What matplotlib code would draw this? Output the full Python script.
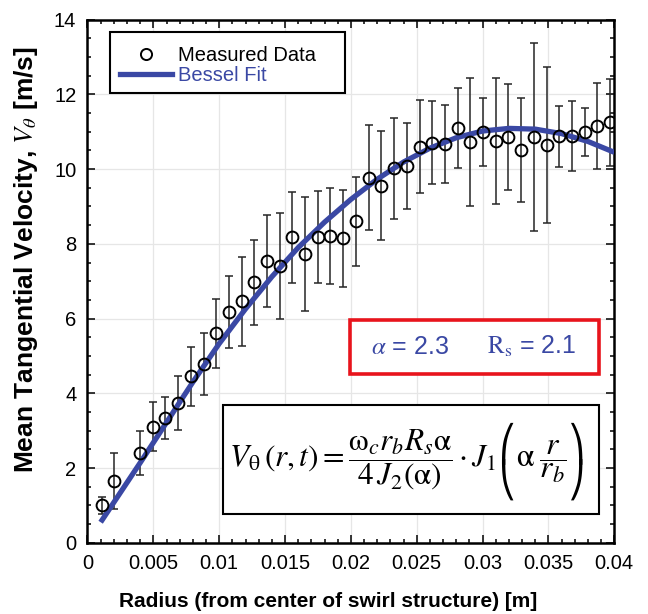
import matplotlib
matplotlib.use("Agg")
import matplotlib.pyplot as plt
from matplotlib.lines import Line2D
from matplotlib.patches import Rectangle
from matplotlib.ticker import MultipleLocator

plt.rcParams["font.family"] = ["Liberation Sans", "DejaVu Sans"]
plt.rcParams["mathtext.fontset"] = "stix"

# measured data (radius [m], mean tangential velocity [m/s], error bar half-height)
radius = [0.00108, 0.00205, 0.00398, 0.00494, 0.00591, 0.00688, 0.00784, 0.00881,
          0.00977, 0.01074, 0.01170, 0.01267, 0.01363, 0.01460, 0.01556, 0.01652,
          0.01749, 0.01845, 0.01942, 0.02038, 0.02135, 0.02231, 0.02328, 0.02424,
          0.02521, 0.02617, 0.02714, 0.02810, 0.02907, 0.03003, 0.03100, 0.03196,
          0.03293, 0.03389, 0.03486, 0.03582, 0.03679, 0.03775, 0.03872, 0.03968]
velocity = [1.00, 1.66, 2.40, 3.11, 3.34, 3.74, 4.45, 4.79,
            5.61, 6.17, 6.46, 6.97, 7.55, 7.41, 8.17, 7.73,
            8.18, 8.21, 8.15, 8.60, 9.77, 9.56, 10.02, 10.09,
            10.60, 10.71, 10.67, 11.09, 10.72, 10.99, 10.76, 10.86,
            10.52, 10.86, 10.64, 10.88, 10.89, 10.99, 11.16, 11.25]
v_err = [0.22, 0.75, 0.59, 0.66, 0.55, 0.72, 0.78, 0.83,
         0.92, 0.96, 1.20, 1.14, 1.23, 1.42, 1.23, 1.52,
         1.23, 1.28, 1.30, 1.20, 1.40, 1.46, 1.36, 1.15,
         1.25, 1.12, 1.04, 1.07, 1.71, 0.90, 1.69, 1.42,
         1.39, 2.51, 2.09, 0.82, 0.94, 0.65, 1.15, 1.17]

# Bessel fit curve
fit_r = [0.001, 0.002, 0.004, 0.006, 0.008, 0.010, 0.012, 0.014, 0.016, 0.018, 0.020,
         0.022, 0.024, 0.026, 0.028, 0.030, 0.032, 0.034, 0.036, 0.038, 0.040]
fit_v = [0.55, 1.08, 2.14, 3.22, 4.30, 5.33, 6.26, 7.12, 7.90, 8.58, 9.19,
         9.73, 10.19, 10.56, 10.84, 11.02, 11.09, 11.07, 10.95, 10.74, 10.45]

x_ticks = [0, 0.005, 0.01, 0.015, 0.02, 0.025, 0.03, 0.035, 0.04]
x_ticklabels = ["0", "0.005", "0.01", "0.015", "0.02", "0.025", "0.03", "0.035", "0.04"]

blue = "#3a48a4"

fig = plt.figure(figsize=(6.48, 6.14), dpi=100)
ax = fig.add_axes([0.135, 0.116, 0.813, 0.852])

ax.errorbar(radius, velocity, yerr=v_err, fmt="none", ecolor="#262626",
            elinewidth=1.1, capsize=2.6, capthick=1.1, zorder=2)
ax.plot(fit_r, fit_v, color=blue, lw=3.8, solid_capstyle="butt", zorder=3)
ax.plot(radius, velocity, "o", mfc="none", mec="black", ms=8.5, mew=1.4, zorder=4)

ax.set_xlim(0, 0.04)
ax.set_ylim(0, 14)
ax.set_xticks(x_ticks, x_ticklabels)
ax.xaxis.set_minor_locator(MultipleLocator(0.001))
ax.yaxis.set_major_locator(MultipleLocator(2))
ax.yaxis.set_minor_locator(MultipleLocator(0.5))
ax.tick_params(which="both", direction="in", top=True, right=True, width=1.1)
ax.tick_params(which="major", length=6, labelsize=14.5)
ax.tick_params(axis="x", which="major", pad=8)
ax.tick_params(axis="y", which="major", pad=8)
ax.tick_params(which="minor", length=3)
for s in ax.spines.values():
    s.set_linewidth(1.8)
ax.grid(True, which="major", color="#e6e6e6", lw=0.9)
ax.set_axisbelow(True)

ax.set_xlabel("Radius (from center of swirl structure) [m]", fontsize=15, fontweight="bold")
ax.xaxis.set_label_coords(0.456, -0.095)
ax.set_ylabel(r"Mean Tangential Velocity, $V_\theta$ [m/s]", fontsize=19, fontweight="bold")
ax.yaxis.set_label_coords(-0.09, 0.542)

# legend with a hand-drawn frame
ax.add_patch(Rectangle((0.0427, 0.859), 0.446, 0.1177, transform=ax.transAxes,
                       fill=True, fc="white", ec="black", lw=1.5, zorder=5))
handles = [Line2D([], [], ls="none", marker="o", mfc="none", mec="black", ms=8, mew=1.4),
           Line2D([], [], color=blue, lw=3.8)]
leg = ax.legend(handles, ["Measured Data", "Bessel Fit"], loc="upper left",
                bbox_to_anchor=(0.0617, 0.9495), borderaxespad=0, borderpad=0,
                fontsize=14.5, frameon=False, handlelength=2.6, handletextpad=0.3,
                labelspacing=0.05)
leg.set_zorder(6)
leg.get_texts()[1].set_color(blue)

# parameter box
ax.add_patch(Rectangle((0.498, 0.323), 0.473, 0.103, transform=ax.transAxes,
                       fill=True, fc="white", ec="#e8141c", lw=2.6, zorder=5))
ax.text(0.538, 0.375, r"$\alpha$ = 2.3", transform=ax.transAxes, color=blue,
        fontsize=18, ha="left", va="center", zorder=6)
ax.text(0.758, 0.375, r"$\mathrm{R_s}$ = 2.1", transform=ax.transAxes, color=blue,
        fontsize=18, ha="left", va="center", zorder=6)

# equation box
ax.add_patch(Rectangle((0.258, 0.055), 0.713, 0.209, transform=ax.transAxes,
                       fill=True, fc="white", ec="black", lw=1.5, zorder=5))
eq1 = ax.text(0.268, 0.159,
              r"$V_{\mathrm{\theta}}\,(r,t) = \dfrac{\mathrm{\omega}_c r_b R_s \mathrm{\alpha}}"
              r"{4\,J_2(\mathrm{\alpha})}\cdot J_1$",
              transform=ax.transAxes, fontsize=22.5, ha="left", va="center", zorder=6)
paren_kw = dict(family=["STIXGeneral", "DejaVu Sans"], fontsize=25, linespacing=0.85,
                ha="left", va="center", zorder=6)
lp = ax.annotate("\u239b\n\u239d", xy=(1, 0.47), xycoords=eq1, xytext=(1.5, 0),
                 textcoords="offset points", **paren_kw)
inner = ax.annotate(r"$\mathrm{\alpha}\;\dfrac{r}{r_b}$", xy=(1, 0.5), xycoords=lp,
                    xytext=(0.5, 0), textcoords="offset points",
                    fontsize=23, ha="left", va="center", zorder=6)
ax.annotate("\u239e\n\u23a0", xy=(1, 0.5), xycoords=inner, xytext=(0, 0),
            textcoords="offset points", **paren_kw)

fig.savefig("out.png", dpi=100)
